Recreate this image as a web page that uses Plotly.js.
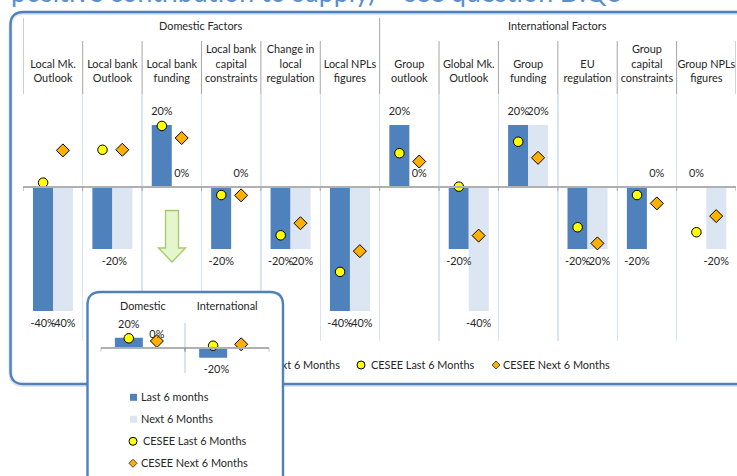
<!DOCTYPE html>
<html><head><meta charset="utf-8">
<script src="https://cdn.plot.ly/plotly-3.0.1.min.js"></script>
<style>
html,body{margin:0;padding:0;background:#fff;width:737px;height:476px;overflow:hidden}
#chart{position:absolute;left:0;top:0;width:737px;height:476px}
#inset{position:absolute;left:84px;top:290px;width:203px;height:186px}
</style></head><body>
<div id="chart"></div><div id="inset"></div>
<script>
const categories = ["Local Mk.<br>Outlook","Local bank<br>Outlook","Local bank<br>funding","Local bank<br>capital<br>constraints","Change in<br>local<br>regulation","Local NPLs<br>figures","Group<br>outlook","Global Mk.<br>Outlook","Group<br>funding","EU<br>regulation","Group<br>capital<br>constraints","Group NPLs<br>figures"];
const last6 = [-40,-20,20,-20,-20,-40,20,-20,20,-20,-20,0];
const next6 = [-40,-20,0,0,-20,-40,0,-40,20,-20,0,-20];
const ceseeLast = [1.4,12,19.7,-2.6,-15.6,-27.4,10.9,0.1,14.6,-13,-2.6,-14.6];
const ceseeNext = [11.8,12,15.8,-2.7,-11.7,-20.7,8.2,-15.7,9.4,-18.2,-5.3,-9.4];

const groupCategories = ["Domestic","International"];
const groupLast = [20,-20];
const groupNext = [0,0];
const groupCeseeLast = [18.8,4];
const groupCeseeNext = [13.4,6.8];

const seriesNames = ["Last 6 months","Next 6 Months","CESEE Last 6 Months","CESEE Next 6 Months"];
const groupHeaders = ["Domestic Factors","International Factors"];

const BLUE='#4f81bd', PALE='#dce6f2', YEL='#ffff00', ORG='#ffb000', GRID='#d8e3f3', AXIS='#b0b0b0', TXT='#262626';
const FONT='Lato, "Open Sans", sans-serif', FS=10.9;
const W=737,H=476;
const px=x=>x/W, py=y=>1-y/H;
const pct=v=>v+'%';
const idx=a=>a.map((_,i)=>i);

function roundRect(x0,y0,x1,y1,r,fx,fy){
  return `M${fx(x0+r)},${fy(y0)} L${fx(x1-r)},${fy(y0)} Q${fx(x1)},${fy(y0)} ${fx(x1)},${fy(y0+r)} L${fx(x1)},${fy(y1-r)} Q${fx(x1)},${fy(y1)} ${fx(x1-r)},${fy(y1)} L${fx(x0+r)},${fy(y1)} Q${fx(x0)},${fy(y1)} ${fx(x0)},${fy(y1-r)} L${fx(x0)},${fy(y0+r)} Q${fx(x0)},${fy(y0)} ${fx(x0+r)},${fy(y0)} Z`;
}
function diamond(cx,cy,r,fx,fy){return `M${fx(cx-r)},${fy(cy)} L${fx(cx)},${fy(cy-r)} L${fx(cx+r)},${fy(cy)} L${fx(cx)},${fy(cy+r)} Z`;}
function legendSquare(x,y,c,fx,fy){return {type:'rect',xref:'paper',yref:'paper',x0:fx(x-3.5),x1:fx(x+3.5),y0:fy(y-3.5),y1:fy(y+3.5),fillcolor:c,line:{width:0}};}
function legendCircle(x,y,fx,fy){return {type:'circle',xref:'paper',yref:'paper',x0:fx(x-4),x1:fx(x+4),y0:fy(y-4),y1:fy(y+4),fillcolor:YEL,line:{color:'#000',width:1}};}
function legendDiamond(x,y,fx,fy){return {type:'path',xref:'paper',yref:'paper',path:diamond(x,y,4,fx,fy),fillcolor:ORG,line:{color:'#222',width:0.8}};}
function textNote(t,x,y,fx,fy,anchor,size,color){return {text:t,xref:'paper',yref:'paper',x:fx(x),y:fy(y),xanchor:anchor||'center',yanchor:'middle',showarrow:false,font:{family:FONT,size:size||FS,color:color||TXT}};}

/* ---------- main chart ---------- */
const off=1/6, labelGap=4.2;
const labelY=v=>v>=0?v+labelGap:v-labelGap-0.2;
const bounds=[...categories.map((_,i)=>i-0.5),categories.length-0.5];

const lastLabelX=idx(last6).map(i=>i===1?i-off+0.2:i-off);
const nextLabelIdx=idx(next6).filter(i=>i!==1);

const traces=[
 {type:'bar',name:seriesNames[0],x:idx(last6),y:last6,marker:{color:BLUE},showlegend:false,hoverinfo:'skip'},
 {type:'bar',name:seriesNames[1],x:idx(next6),y:next6,marker:{color:PALE},showlegend:false,hoverinfo:'skip'},
 {type:'scatter',mode:'text',cliponaxis:false,xaxis:'x2',x:nextLabelIdx.map(i=>i+off),y:nextLabelIdx.map(i=>labelY(next6[i])),text:nextLabelIdx.map(i=>pct(next6[i])),textfont:{family:FONT,size:FS,color:TXT},showlegend:false,hoverinfo:'skip'},
 {type:'scatter',mode:'text',cliponaxis:false,xaxis:'x2',x:lastLabelX,y:last6.map(labelY),text:last6.map(pct),textfont:{family:FONT,size:FS,color:TXT},showlegend:false,hoverinfo:'skip'},
 {type:'scatter',mode:'markers',cliponaxis:false,name:seriesNames[2],x:idx(ceseeLast).map(i=>i-off),y:ceseeLast,marker:{symbol:'circle',size:9.5,color:YEL,line:{color:'#000',width:1}},showlegend:false,hoverinfo:'skip'},
 {type:'scatter',mode:'markers',cliponaxis:false,name:seriesNames[3],x:idx(ceseeNext).map(i=>i+off),y:ceseeNext,marker:{symbol:'diamond',size:10,color:ORG,line:{color:'#000',width:1}},showlegend:false,hoverinfo:'skip'}
];

const mainShapes=[
 {type:'path',xref:'paper',yref:'paper',path:roundRect(10.5,13,770,385,13,px,py),fillcolor:'rgba(0,0,0,0)',line:{color:'#dbe5f1',width:4},layer:'below'},
 {type:'path',xref:'paper',yref:'paper',path:roundRect(10.5,12,770,384,13,px,py),fillcolor:'rgba(0,0,0,0)',line:{color:BLUE,width:2.4},layer:'below'},
 ...bounds.map(b=>({type:'line',xref:'x',yref:'paper',x0:b,x1:b,y0:py(41),y1:py(94),line:{color:'#a6a6a6',width:1}})),
 ...[bounds[0],bounds[6]].map(b=>({type:'line',xref:'x',yref:'paper',x0:b,x1:b,y0:py(18),y1:py(41),line:{color:'#a6a6a6',width:1}})),
 ...bounds.map(b=>({type:'line',xref:'x',yref:'y',x0:b,x1:b,y0:0,y1:-1.3,line:{color:'#a6a6a6',width:1}})),
 {type:'path',xref:'paper',yref:'paper',path:[[165.5,210.5],[178.5,210.5],[178.5,248],[185.5,248],[172,262],[158.5,248],[165.5,248]].map((p,i)=>(i?'L':'M')+px(p[0])+','+py(p[1])).join(' ')+' Z',fillcolor:'#e6f6cc',line:{color:'#a2cb68',width:1.3}},
 legendSquare(150,365,BLUE,px,py),
 legendSquare(262,365,PALE,px,py),
 legendCircle(361,365,px,py),
 legendDiamond(496,365,px,py)
];

const mainNotes=[
 {text:'positive contribution to supply) – see question D.Q3',xref:'paper',yref:'paper',x:px(9),y:py(-8),xanchor:'left',yanchor:'middle',showarrow:false,font:{family:FONT,size:26.7,color:'#5a8fcb'}},
 textNote(groupHeaders[0],201,25.5,px,py),
 textNote(groupHeaders[1],557.7,25.5,px,py),
 textNote(seriesNames[0],155,364.6,px,py,'left'),
 textNote(seriesNames[1],266,364.6,px,py,'left'),
 textNote(seriesNames[2],368.5,364.6,px,py,'left'),
 textNote(seriesNames[3],500.5,364.6,px,py,'left')
];

Plotly.newPlot('chart',traces,{
 width:W,height:H,margin:{l:0,r:0,t:0,b:0},paper_bgcolor:'rgba(0,0,0,0)',plot_bgcolor:'rgba(0,0,0,0)',
 barmode:'group',bargap:0.326,bargroupgap:0,showlegend:false,
 xaxis:{domain:[px(23.3),px(736)],range:[-0.5,11.5],tickmode:'array',tickvals:bounds,showticklabels:false,ticks:'',showgrid:true,gridcolor:GRID,gridwidth:1.4,zeroline:false,showline:false},
 xaxis2:{overlaying:'x',anchor:'y',side:'top',range:[-0.5,11.5],tickmode:'array',tickvals:idx(categories),ticktext:categories,ticks:'',showgrid:false,zeroline:false,showline:false,tickangle:0,ticklabelstandoff:9,tickfont:{family:FONT,size:FS,color:TXT}},
 yaxis:{domain:[py(341),py(94)],range:[-49.7,30],showticklabels:false,ticks:'',showgrid:false,showline:false,zeroline:true,zerolinecolor:AXIS,zerolinewidth:2,zerolinelayer:'above traces'},
 shapes:mainShapes,annotations:mainNotes,font:{family:FONT}
},{staticPlot:true,displayModeBar:false});

/* ---------- inset panel ---------- */
const IW=203,IH=186,IL=84,IT=290;
const ix=x=>(x-IL)/IW, iy=y=>1-(y-IT)/IH;
const iBounds=[-0.5,0.5,1.5];
const iGap=25, iOff=1/6;
const iLabelY=v=>v>=0?v+iGap:v-iGap;
const iLastX=idx(groupLast).map(i=>i===1?i-iOff+0.04:i-iOff);

const insetTraces=[
 {type:'bar',name:seriesNames[0],x:[0,1],y:groupLast,marker:{color:BLUE},showlegend:false,hoverinfo:'skip'},
 {type:'bar',name:seriesNames[1],x:[0,1],y:groupNext,marker:{color:PALE},showlegend:false,hoverinfo:'skip'},
 {type:'scatter',mode:'text',cliponaxis:false,xaxis:'x2',x:iLastX,y:groupLast.map(iLabelY),text:groupLast.map(pct),textfont:{family:FONT,size:FS,color:TXT},showlegend:false,hoverinfo:'skip'},
 {type:'scatter',mode:'text',cliponaxis:false,xaxis:'x2',x:[0+iOff],y:[iLabelY(groupNext[0])],text:[pct(groupNext[0])],textfont:{family:FONT,size:FS,color:TXT},showlegend:false,hoverinfo:'skip'},
 {type:'scatter',mode:'markers',cliponaxis:false,name:seriesNames[2],x:[0-iOff,1-iOff],y:groupCeseeLast,marker:{symbol:'circle',size:9.5,color:YEL,line:{color:'#000',width:1}},showlegend:false,hoverinfo:'skip'},
 {type:'scatter',mode:'markers',cliponaxis:false,name:seriesNames[3],x:[0+iOff,1+iOff],y:groupCeseeNext,marker:{symbol:'diamond',size:10,color:ORG,line:{color:'#000',width:1}},showlegend:false,hoverinfo:'skip'}
];

Plotly.newPlot('inset',insetTraces,{
 width:IW,height:IH,margin:{l:0,r:0,t:0,b:0},paper_bgcolor:'rgba(0,0,0,0)',plot_bgcolor:'rgba(0,0,0,0)',
 barmode:'group',bargap:0.336,bargroupgap:0,showlegend:false,
 xaxis:{domain:[ix(100.7),ix(269.3)],range:[-0.5,1.5],tickmode:'array',tickvals:iBounds,showticklabels:false,ticks:'',showgrid:true,gridcolor:GRID,gridwidth:1.2,zeroline:false,showline:false},
 xaxis2:{overlaying:'x',anchor:'y',side:'top',range:[-0.5,1.5],tickmode:'array',tickvals:[0,1],ticktext:groupCategories,ticks:'',showgrid:false,zeroline:false,showline:false,tickangle:0,ticklabelstandoff:10,tickfont:{family:FONT,size:FS,color:TXT}},
 yaxis:{domain:[iy(372.7),iy(322.7)],range:[-50,50],showticklabels:false,ticks:'',showgrid:false,showline:false,zeroline:true,zerolinecolor:AXIS,zerolinewidth:1.6,zerolinelayer:'above traces'},
 shapes:[
  {type:'path',xref:'paper',yref:'paper',path:roundRect(87.5,292,283,490,13,ix,iy),fillcolor:'#fff',line:{color:BLUE,width:2.4},layer:'below'},
  ...iBounds.map(b=>({type:'line',xref:'x',yref:'y',x0:b,x1:b,y0:0,y1:-8,line:{color:'#808080',width:1}})),
  legendSquare(133.5,397.3,BLUE,ix,iy),
  legendSquare(133.5,419.3,PALE,ix,iy),
  legendCircle(133,441.3,ix,iy),
  legendDiamond(133,463.3,ix,iy)
 ],
 annotations:[
  textNote(seriesNames[0],138.5,396.8,ix,iy,'left'),
  textNote(seriesNames[1],138.5,418.8,ix,iy,'left'),
  textNote(seriesNames[2],141,440.8,ix,iy,'left'),
  textNote(seriesNames[3],138.5,462.8,ix,iy,'left')
 ],font:{family:FONT}
},{staticPlot:true,displayModeBar:false});
</script></body></html>
